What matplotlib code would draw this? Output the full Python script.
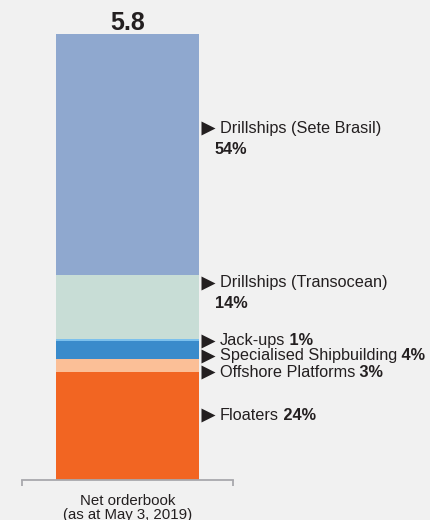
import matplotlib.pyplot as plt

# data (US$ bn, net orderbook)
segments = ['Floaters', 'Offshore Platforms', 'Specialised Shipbuilding',
            'Jack-ups', 'Drillships (Transocean)', 'Drillships (Sete Brasil)']
values = [1.40, 0.17, 0.24, 0.02, 0.83, 3.14]
shares = ['24%', '3%', '4%', '1%', '14%', '54%']
colors = ['#F26522', '#FBBF97', '#3A8BCB', '#7CC0EC', '#C8DDD6', '#8FA8CF']
category = 'Net orderbook\n(as at May 3, 2019)'
total = 5.8

# label y positions (data units) and whether the share goes on a second line
label_y = [0.845, 1.404, 1.613, 1.808, 2.562, 4.577]
two_line = [False, False, False, False, True, True]

plt.rcParams['font.family'] = ['Liberation Sans', 'DejaVu Sans']
txt = '#231F20'
bg = '#F1F1F1'
fs = 11.7

fig = plt.figure(figsize=(4.3, 5.2), dpi=100, facecolor=bg)
ax = fig.add_axes([22/430, 40/520, 211/430, (480-34)/520], facecolor=bg)

bottom = 0
for v, c in zip(values, colors):
    ax.bar(0, v, width=0.673, bottom=bottom, color=c, linewidth=0)
    bottom += v

ax.set_xlim(-0.5, 0.5)
ax.set_ylim(0, total)

ax.annotate(f'{total:.1f}', xy=(0, total), xytext=(0, -1), textcoords='offset points',
            ha='center', va='bottom', fontsize=18, fontweight='bold', color=txt,
            annotation_clip=False)

for name, share, y, tl in zip(segments, shares, label_y, two_line):
    ax.plot(0.381, y, marker='>', ms=10, color=txt, clip_on=False, mec='none')
    t = ax.text(0.438, y, name, fontsize=fs, color=txt, va='center', ha='left')
    if tl:
        ax.text(0.414, y - 0.273, share, fontsize=fs, fontweight='bold',
                color=txt, va='center', ha='left')
    else:
        ax.annotate(' ' + share, xy=(1, 0), xycoords=t, va='bottom', ha='left',
                    fontsize=fs, fontweight='bold', color=txt)

for s in ('top', 'right', 'left'):
    ax.spines[s].set_visible(False)
ax.spines['bottom'].set_color('#A8A8AD')
ax.spines['bottom'].set_linewidth(1.3)
ax.set_yticks([])
ax.set_xticks([0])
ax.set_xticklabels([category], fontsize=10.8, color=txt, linespacing=1.05)
ax.tick_params(axis='x', which='major', length=0, pad=10)
ax.set_xticks([-0.5, 0.5], minor=True)
ax.tick_params(axis='x', which='minor', length=4, width=1.3, color='#A8A8AD',
               direction='out')

fig.savefig('out.png', dpi=100, facecolor=bg)
